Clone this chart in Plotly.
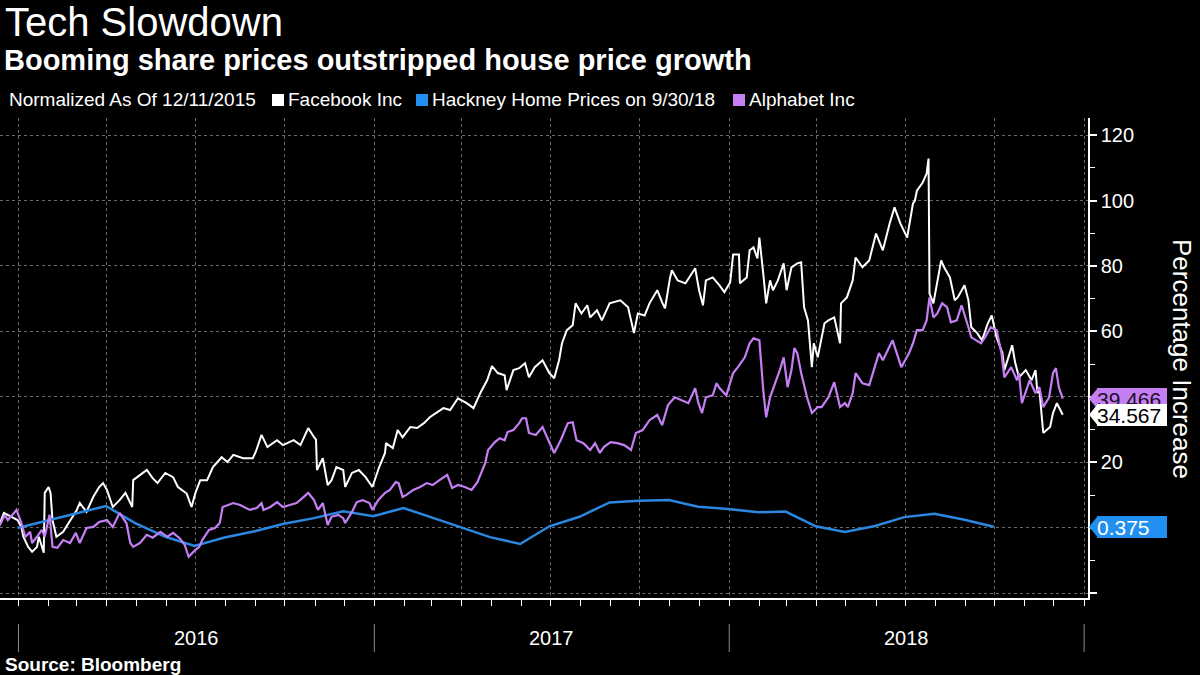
import plotly.graph_objects as go

# ---------------- data ----------------
fb_dates = [
    "2015-12-11", "2015-12-17", "2015-12-31", "2016-01-04", "2016-01-06", "2016-01-11", "2016-01-15",
    "2016-01-20", "2016-01-22", "2016-01-27", "2016-01-28", "2016-02-01", "2016-02-03", "2016-02-05",
    "2016-02-09", "2016-02-16", "2016-02-19", "2016-03-01", "2016-03-04", "2016-03-11", "2016-03-18",
    "2016-03-24", "2016-03-28", "2016-04-01", "2016-04-07", "2016-04-14", "2016-04-20", "2016-04-27",
    "2016-04-28", "2016-05-09", "2016-05-12", "2016-05-18", "2016-05-23", "2016-05-31", "2016-06-08",
    "2016-06-13", "2016-06-17", "2016-06-22", "2016-06-27", "2016-07-01", "2016-07-06", "2016-07-13",
    "2016-07-19", "2016-07-28", "2016-08-03", "2016-08-09", "2016-08-19", "2016-08-29", "2016-09-01",
    "2016-09-07", "2016-09-13", "2016-09-23", "2016-09-29", "2016-10-10", "2016-10-17", "2016-10-25",
    "2016-10-31", "2016-11-02", "2016-11-03", "2016-11-09", "2016-11-14", "2016-11-18", "2016-11-23",
    "2016-11-30", "2016-12-02", "2016-12-09", "2016-12-16", "2016-12-23", "2016-12-30", "2017-01-06",
    "2017-01-12", "2017-01-13", "2017-01-20", "2017-01-25", "2017-01-30", "2017-02-07", "2017-02-14",
    "2017-02-21", "2017-02-27", "2017-03-06", "2017-03-13", "2017-03-20", "2017-03-28", "2017-04-06",
    "2017-04-13", "2017-04-20", "2017-04-27", "2017-05-02", "2017-05-08", "2017-05-15", "2017-05-17",
    "2017-05-24", "2017-05-30", "2017-06-05", "2017-06-09", "2017-06-15", "2017-06-23", "2017-06-30",
    "2017-07-05", "2017-07-10", "2017-07-13", "2017-07-18", "2017-07-24", "2017-07-27", "2017-08-02",
    "2017-08-08", "2017-08-11", "2017-08-18", "2017-08-23", "2017-08-31", "2017-09-11", "2017-09-19",
    "2017-09-25", "2017-09-29", "2017-10-06", "2017-10-11", "2017-10-19", "2017-10-24", "2017-10-27",
    "2017-11-01", "2017-11-03", "2017-11-09", "2017-11-17", "2017-11-27", "2017-12-01", "2017-12-05",
    "2017-12-08", "2017-12-15", "2017-12-22", "2017-12-27", "2018-01-02", "2018-01-05", "2018-01-11",
    "2018-01-12", "2018-01-19", "2018-01-22", "2018-01-26", "2018-01-30", "2018-02-01", "2018-02-05",
    "2018-02-08", "2018-02-12", "2018-02-15", "2018-02-20", "2018-02-26", "2018-03-01", "2018-03-06",
    "2018-03-12", "2018-03-16", "2018-03-19", "2018-03-23", "2018-03-27", "2018-03-29", "2018-04-02",
    "2018-04-09", "2018-04-13", "2018-04-19", "2018-04-25", "2018-04-26", "2018-05-02", "2018-05-08",
    "2018-05-11", "2018-05-18", "2018-05-25", "2018-06-01", "2018-06-08", "2018-06-15", "2018-06-20",
    "2018-06-26", "2018-07-03", "2018-07-09", "2018-07-11", "2018-07-13", "2018-07-19", "2018-07-23",
    "2018-07-25", "2018-07-26", "2018-07-30", "2018-08-03", "2018-08-07", "2018-08-10", "2018-08-16",
    "2018-08-21", "2018-08-24", "2018-08-31", "2018-09-04", "2018-09-07", "2018-09-13", "2018-09-18",
    "2018-09-24", "2018-09-28", "2018-10-03", "2018-10-09", "2018-10-11", "2018-10-19", "2018-10-22",
    "2018-10-26", "2018-11-02", "2018-11-08", "2018-11-12", "2018-11-14", "2018-11-16", "2018-11-20",
    "2018-11-27", "2018-11-30", "2018-12-04", "2018-12-10",
]
fb_values = [
    0.0, 4.6, 2.4, 0.3, -2.7, -5.8, -7.3,
    -5.8, -2.7, -7.6, 10.7, 12.5, 10.7, 2.4,
    -2.7, -1.2, 0.3, 5.5, 7.6, 4.9, 9.5,
    12.5, 13.7, 11.6, 6.4, 8.5, 10.7, 6.4,
    14.6, 17.1, 17.7, 15.2, 13.7, 16.8, 15.5,
    12.5, 11.6, 10.5, 6.4, 10.7, 14.6, 14.6,
    18.6, 21.6, 20.1, 22.3, 21.3, 21.3, 23.2,
    28.4, 24.7, 26.8, 25.3, 26.8, 25.3, 30.5,
    27.7, 27.0, 17.7, 21.3, 13.1, 14.6, 18.6,
    17.7, 12.5, 16.8, 17.7, 15.5, 12.5, 18.6,
    22.9, 25.9, 24.4, 29.9, 27.7, 30.8, 30.5,
    32.0, 33.8, 35.1, 36.6, 36.0, 39.6, 38.1,
    36.6, 41.2, 45.1, 49.4, 47.3, 46.6, 42.1,
    48.2, 48.8, 50.3, 46.0, 49.1, 51.2, 47.3,
    45.7, 51.2, 56.4, 60.4, 61.9, 68.6, 65.5,
    68.0, 64.3, 66.5, 63.4, 68.6, 69.5, 67.4,
    59.5, 65.5, 64.9, 68.6, 72.6, 68.9, 67.1,
    76.2, 78.7, 75.6, 74.7, 79.3, 72.6, 68.0,
    75.6, 76.5, 74.1, 72.0, 75.0, 83.5, 83.5,
    74.7, 76.5, 84.8, 85.7, 82.3, 88.7, 77.7,
    68.6, 75.6, 72.6, 75.6, 80.8, 72.6, 79.6,
    80.8, 81.1, 67.4, 63.4, 49.1, 56.4, 52.1,
    62.5, 63.4, 64.3, 56.4, 68.6, 70.4, 75.6,
    82.6, 79.6, 81.7, 89.9, 84.8, 93.0, 97.9,
    93.0, 88.7, 99.1, 100.0, 103.0, 105.5, 108.2,
    112.8, 71.6, 68.6, 74.7, 81.7, 79.6, 76.5,
    69.5, 70.4, 74.1, 69.5, 61.3, 59.5, 57.3,
    62.5, 64.9, 58.2, 53.4, 48.2, 55.8, 50.6,
    46.0, 48.2, 45.1, 48.2, 41.2, 42.1, 29.0,
    30.8, 35.1, 38.1, 34.567,
]

alphabet_dates = [
    "2015-12-11", "2015-12-14", "2015-12-18", "2015-12-21", "2015-12-24", "2015-12-30", "2016-01-04",
    "2016-01-08", "2016-01-13", "2016-01-15", "2016-01-20", "2016-01-25", "2016-01-28", "2016-02-01",
    "2016-02-02", "2016-02-05", "2016-02-10", "2016-02-16", "2016-02-23", "2016-02-29", "2016-03-04",
    "2016-03-11", "2016-03-18", "2016-03-24", "2016-04-01", "2016-04-07", "2016-04-14", "2016-04-21",
    "2016-04-25", "2016-04-28", "2016-05-05", "2016-05-12", "2016-05-18", "2016-05-26", "2016-06-02",
    "2016-06-08", "2016-06-15", "2016-06-20", "2016-06-24", "2016-07-01", "2016-07-05", "2016-07-08",
    "2016-07-15", "2016-07-21", "2016-07-26", "2016-07-29", "2016-08-09", "2016-08-16", "2016-08-26",
    "2016-09-02", "2016-09-07", "2016-09-09", "2016-09-16", "2016-09-23", "2016-09-29", "2016-10-06",
    "2016-10-13", "2016-10-19", "2016-10-25", "2016-10-31", "2016-11-04", "2016-11-09", "2016-11-14",
    "2016-11-18", "2016-11-25", "2016-11-30", "2016-12-02", "2016-12-09", "2016-12-14", "2016-12-20",
    "2016-12-27", "2016-12-30", "2017-01-05", "2017-01-12", "2017-01-17", "2017-01-23", "2017-01-26",
    "2017-01-30", "2017-02-03", "2017-02-10", "2017-02-17", "2017-02-24", "2017-03-02", "2017-03-09",
    "2017-03-17", "2017-03-22", "2017-03-28", "2017-04-04", "2017-04-11", "2017-04-17", "2017-04-21",
    "2017-04-25", "2017-04-28", "2017-05-05", "2017-05-10", "2017-05-15", "2017-05-18", "2017-05-24",
    "2017-05-30", "2017-06-02", "2017-06-06", "2017-06-09", "2017-06-16", "2017-06-23", "2017-06-29",
    "2017-07-05", "2017-07-12", "2017-07-19", "2017-07-24", "2017-07-28", "2017-08-04", "2017-08-11",
    "2017-08-16", "2017-08-21", "2017-08-25", "2017-09-01", "2017-09-08", "2017-09-15", "2017-09-22",
    "2017-09-27", "2017-10-04", "2017-10-11", "2017-10-19", "2017-10-24", "2017-10-30", "2017-11-06",
    "2017-11-13", "2017-11-20", "2017-11-27", "2017-11-30", "2017-12-04", "2017-12-08", "2017-12-15",
    "2017-12-19", "2017-12-22", "2017-12-29", "2018-01-05", "2018-01-10", "2018-01-17", "2018-01-22",
    "2018-01-26", "2018-02-01", "2018-02-05", "2018-02-08", "2018-02-12", "2018-02-16", "2018-02-22",
    "2018-02-26", "2018-03-02", "2018-03-06", "2018-03-09", "2018-03-12", "2018-03-16", "2018-03-22",
    "2018-03-27", "2018-04-02", "2018-04-06", "2018-04-13", "2018-04-19", "2018-04-25", "2018-04-30",
    "2018-05-03", "2018-05-08", "2018-05-11", "2018-05-18", "2018-05-25", "2018-06-04", "2018-06-08",
    "2018-06-18", "2018-06-27", "2018-07-05", "2018-07-09", "2018-07-13", "2018-07-19", "2018-07-23",
    "2018-07-26", "2018-07-30", "2018-08-03", "2018-08-08", "2018-08-13", "2018-08-17", "2018-08-23",
    "2018-08-28", "2018-09-04", "2018-09-07", "2018-09-12", "2018-09-17", "2018-09-21", "2018-09-27",
    "2018-10-03", "2018-10-08", "2018-10-11", "2018-10-18", "2018-10-24", "2018-10-26", "2018-10-29",
    "2018-11-06", "2018-11-12", "2018-11-16", "2018-11-20", "2018-11-26", "2018-11-30", "2018-12-03",
    "2018-12-06", "2018-12-10",
]
alphabet_values = [
    0.0, 1.5, 4.0, 2.4, 3.4, 5.5, 1.5,
    -2.7, -1.2, -4.6, -2.7, -0.6, -2.7, 3.4,
    4.0, -5.8, -6.1, -3.7, -4.6, -1.5, -4.6,
    0.0, 0.3, 1.8, 2.4, 0.3, 4.6, 1.5,
    -4.6, -5.8, -4.6, -2.1, -3.0, -1.2, -2.7,
    -1.5, -3.2, -5.2, -8.8, -6.7, -5.8, -3.7,
    -0.6, 0.0, 1.5, 6.4, 7.6, 7.0, 5.5,
    6.1, 7.6, 5.5, 6.4, 7.9, 6.4, 7.0,
    7.6, 9.1, 10.7, 8.5, 5.5, 7.6, 0.9,
    3.4, 4.0, 3.0, 1.5, 4.9, 7.9, 8.5,
    7.6, 5.5, 8.5, 10.7, 11.6, 14.0, 13.7,
    9.5, 10.1, 11.6, 12.5, 13.7, 13.1, 14.6,
    16.2, 12.2, 13.1, 12.5, 11.6, 14.0, 16.8,
    19.8, 23.8, 26.2, 27.4, 26.8, 29.3, 29.9,
    32.0, 33.5, 33.5, 29.0, 28.4, 30.8, 26.8,
    22.9, 27.0, 32.0, 32.3, 26.8, 25.9, 23.8,
    25.9, 22.9, 24.7, 26.2, 25.9, 25.3, 23.8,
    29.0, 29.9, 32.9, 34.5, 31.4, 37.5, 39.9,
    39.0, 38.1, 42.7, 38.4, 35.1, 39.9, 40.5,
    44.2, 42.7, 40.5, 47.3, 49.1, 52.1, 56.4,
    57.9, 57.3, 42.1, 33.8, 39.9, 43.0, 48.2,
    52.1, 43.0, 48.2, 54.9, 53.4, 47.3, 39.9,
    35.1, 36.9, 36.9, 39.9, 44.5, 36.9, 38.1,
    36.9, 41.2, 47.3, 44.2, 43.6, 53.4, 51.2,
    57.3, 49.1, 53.4, 56.4, 60.4, 60.4, 63.4,
    70.4, 64.3, 65.5, 68.6, 67.4, 62.8, 63.4,
    68.0, 61.3, 58.2, 57.3, 56.4, 58.2, 61.3,
    60.4, 53.4, 46.0, 49.1, 45.1, 47.3, 38.1,
    45.1, 41.2, 43.0, 36.9, 39.9, 47.3, 48.8,
    43.0, 39.466,
]

hackney_dates = [
    "2015-12-31", "2016-01-31", "2016-02-29", "2016-03-31", "2016-04-30", "2016-05-31", "2016-06-30",
    "2016-07-31", "2016-08-31", "2016-09-30", "2016-10-31", "2016-11-30", "2016-12-31", "2017-01-31",
    "2017-02-28", "2017-03-31", "2017-04-30", "2017-05-31", "2017-06-30", "2017-07-31", "2017-08-31",
    "2017-09-30", "2017-10-31", "2017-11-30", "2017-12-31", "2018-01-31", "2018-02-28", "2018-03-31",
    "2018-04-30", "2018-05-31", "2018-06-30", "2018-07-31", "2018-08-31", "2018-09-30",
]
hackney_values = [
    0.0, 2.3, 4.5, 6.7, 1.5, -2.7, -5.5,
    -2.9, -1.0, 1.3, 3.0, 5.1, 3.6, 6.1,
    3.3, 0.3, -2.8, -4.9, 0.5, 3.4, 7.8,
    8.3, 8.5, 6.5, 5.8, 4.8, 5.0, 0.5,
    -1.2, 0.6, 3.3, 4.3, 2.5, 0.375,
]

year_labels = ["2016", "2017", "2018"]
y_tick_values = [-20, 0, 20, 40, 60, 80, 100, 120]
y_tick_text = ["", "", "20", "", "60", "80", "100", "120"]
y_minor_values = [-10, 10, 30, 50, 70, 90, 110]

# ---------------- styling ----------------
WHITE = "#ffffff"
PURPLE = "#c57ff4"
BLUE = "#2b87e0"
TAG_BLUE = "#2290f0"
GRID = "#6a6a6a"
FONT = "Liberation Sans, Arial, sans-serif"

W, H = 1200, 675
ML, MR, MT, MB = 0, 112, 118, 77
PW = W - ML - MR
PH = H - MT - MB
Y_RANGE = [-21.4, 125.2]
X_RANGE = ["2015-12-13", "2019-01-05"]


def px_x(px):
    return (px - ML) / PW


def px_y(py):
    return (H - MB - py) / PH


units_per_px = (Y_RANGE[1] - Y_RANGE[0]) / PH

fig = go.Figure()
fig.add_trace(go.Scatter(x=fb_dates, y=fb_values, mode="lines",
                         line=dict(color=WHITE, width=2), name="Facebook Inc"))
fig.add_trace(go.Scatter(x=hackney_dates, y=hackney_values, mode="lines",
                         line=dict(color=BLUE, width=2.5), name="Hackney Home Prices on 9/30/18"))
fig.add_trace(go.Scatter(x=alphabet_dates, y=alphabet_values, mode="lines",
                         line=dict(color=PURPLE, width=2.2), name="Alphabet Inc"))

years = [int(y) for y in year_labels]
quarter_ticks = [f"{y}-{m:02d}-01" for y in years for m in (1, 4, 7, 10)] + [f"{years[-1] + 1}-01-01"]
month_ticks = [f"{y}-{m:02d}-01" for y in years for m in range(1, 13) if m not in (1, 4, 7, 10)]

fig.update_xaxes(
    type="date", range=X_RANGE, tickmode="array", tickvals=quarter_ticks,
    showticklabels=False, ticks="outside", ticklen=6, tickcolor=WHITE, tickwidth=1,
    showgrid=True, gridcolor=GRID, griddash="dot", gridwidth=1,
    showline=True, linecolor=WHITE, linewidth=2, zeroline=False,
    minor=dict(tickmode="array", tickvals=month_ticks, ticks="outside", ticklen=6,
               tickcolor=WHITE, tickwidth=1, showgrid=False),
)
fig.update_yaxes(
    side="right", range=Y_RANGE, tickmode="array", tickvals=y_tick_values, ticktext=y_tick_text,
    ticks="outside", ticklen=7, tickwidth=2, tickcolor=WHITE,
    tickfont=dict(family=FONT, size=20, color=WHITE),
    showgrid=True, gridcolor=GRID, griddash="dot", gridwidth=1,
    showline=True, linecolor=WHITE, linewidth=1.5, zeroline=False,
    minor=dict(tickmode="array", tickvals=y_minor_values, ticks="outside", ticklen=5,
               tickcolor=WHITE, tickwidth=1, showgrid=False),
)

annotations = []
shapes = []

# titles
annotations.append(dict(text="Tech Slowdown", x=px_x(3), y=px_y(22), xref="paper", yref="paper",
                        xanchor="left", yanchor="middle", showarrow=False,
                        font=dict(family=FONT, size=40, color=WHITE)))
annotations.append(dict(text="<b>Booming share prices outstripped house price growth</b>",
                        x=px_x(2), y=px_y(60), xref="paper", yref="paper",
                        xanchor="left", yanchor="middle", showarrow=False,
                        font=dict(family=FONT, size=29, color=WHITE)))

# legend row
annotations.append(dict(text="Normalized As Of 12/11/2015", x=px_x(7), y=px_y(100), xref="paper",
                        yref="paper", xanchor="left", yanchor="middle", showarrow=False,
                        font=dict(family=FONT, size=19, color=WHITE)))
legend_items = [("Facebook Inc", WHITE, 272), ("Hackney Home Prices on 9/30/18", TAG_BLUE, 416),
                ("Alphabet Inc", PURPLE, 733)]
for label, col, sx in legend_items:
    shapes.append(dict(type="rect", xref="paper", yref="paper", x0=px_x(sx), x1=px_x(sx + 12),
                       y0=px_y(106), y1=px_y(94), fillcolor=col, line=dict(width=0)))
    annotations.append(dict(text=label, x=px_x(sx + 14), y=px_y(100), xref="paper", yref="paper",
                            xanchor="left", yanchor="middle", showarrow=False,
                            font=dict(family=FONT, size=19, color=WHITE)))

# year labels and separators
for yl in year_labels:
    annotations.append(dict(text=yl, x=f"{yl}-07-02", y=px_y(638), xref="x", yref="paper",
                            xanchor="center", yanchor="middle", showarrow=False,
                            font=dict(family=FONT, size=20, color=WHITE)))
for yv in years + [years[-1] + 1]:
    shapes.append(dict(type="line", xref="x", yref="paper", x0=f"{yv}-01-01", x1=f"{yv}-01-01",
                       y0=px_y(652), y1=px_y(624), line=dict(color="#8a8a8a", width=1)))

annotations.append(dict(text="<b>Source: Bloomberg</b>", x=px_x(3), y=px_y(664), xref="paper",
                        yref="paper", xanchor="left", yanchor="middle", showarrow=False,
                        font=dict(family=FONT, size=19, color=WHITE)))

# right axis title
annotations.append(dict(text="Percentage Increase", x=px_x(1182), y=px_y(359), xref="paper",
                        yref="paper", xanchor="center", yanchor="middle", showarrow=False,
                        textangle=90, font=dict(family=FONT, size=26, color=WHITE)))

# last-value tags
half = 11 * units_per_px
tags = [(alphabet_values[-1], PURPLE, "#1a0f24"), (fb_values[-1], WHITE, "#000000"),
        (hackney_values[-1], TAG_BLUE, WHITE)]
for val, fill, tcol in tags:
    shapes.append(dict(type="path", xref="paper", yref="y",
                       path=f"M {px_x(1089)},{val} L {px_x(1098)},{val + half} "
                            f"L {px_x(1098)},{val - half} Z",
                       fillcolor=fill, line=dict(width=0)))
    annotations.append(dict(text=f"{val:.3f}", x=px_x(1097), y=val, xref="paper", yref="y",
                            xanchor="left", yanchor="middle", showarrow=False,
                            width=70, height=22, align="left", bgcolor=fill, borderpad=0,
                            borderwidth=0, font=dict(family=FONT, size=21, color=tcol)))

fig.update_layout(
    width=W, height=H, margin=dict(l=ML, r=MR, t=MT, b=MB, pad=0),
    paper_bgcolor="#000000", plot_bgcolor="#000000", showlegend=False,
    annotations=annotations, shapes=shapes,
    font=dict(family=FONT, color=WHITE),
)

fig.write_html("out.html", include_plotlyjs=True, config={"displayModeBar": False},
               post_script="document.body.style.margin='0';document.body.style.overflow='hidden';")
